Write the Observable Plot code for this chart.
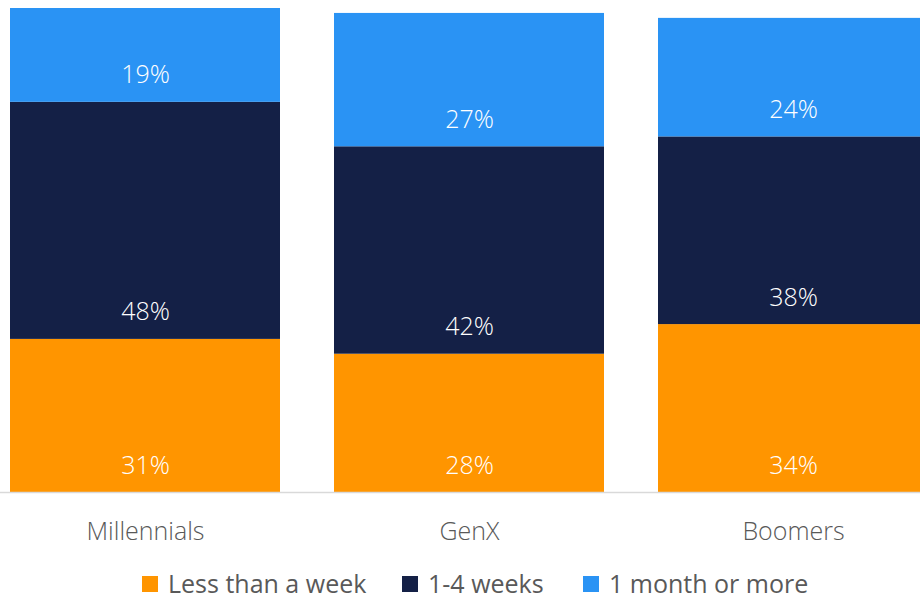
<!DOCTYPE html>
<html>
<head>
<meta charset="utf-8">
<script src="https://cdn.jsdelivr.net/npm/d3@7"></script>
<script src="https://cdn.jsdelivr.net/npm/@observablehq/plot@0.6"></script>
<style>
  html, body { margin: 0; padding: 0; background: #fff; }
  body { width: 920px; height: 602px; overflow: hidden; font-family: "Open Sans", "Noto Sans", sans-serif; position: relative; }
  #chart svg { display: block; }
  #legend { position: absolute; left: 0; top: 571px; width: 920px; height: 25px; font-size: 25px; line-height: 25px; color: #595959; }
  .item { position: absolute; top: 0; height: 25px; display: flex; align-items: center; gap: 10px; white-space: nowrap; }
  .sw { width: 16px; height: 16px; display: inline-block; }
</style>
</head>
<body>
<div id="chart"></div>
<div id="legend"></div>
<script>
const categories = ["Millennials", "GenX", "Boomers"];
const series = ["Less than a week", "1-4 weeks", "1 month or more"];
const lessThanWeek = [31, 28, 34];
const oneToFourWeeks = [48, 42, 38];
const monthOrMore = [19, 27, 24];
const colors = ["#FF9500", "#142046", "#2A93F4"];

const values = [lessThanWeek, oneToFourWeeks, monthOrMore];
const data = [];
series.forEach((s, si) => categories.forEach((c, ci) => data.push({category: c, series: s, value: values[si][ci]})));

const chart = Plot.plot({
  width: 920,
  height: 566,
  marginTop: 8,
  marginBottom: 74,
  marginLeft: 0,
  marginRight: 0,
  style: {fontFamily: "'Open Sans', 'Noto Sans', sans-serif", background: "transparent"},
  x: {domain: categories, range: [-17, 955], paddingInner: 54 / 324, paddingOuter: 27 / 324, label: null},
  y: {domain: [0, 98], axis: null},
  color: {domain: series, range: colors},
  marks: [
    Plot.barY(data, {x: "category", y: "value", fill: "series", order: series}),
    Plot.ruleY([0], {stroke: "#d9d9d9", strokeWidth: 1.5}),
    Plot.text(data, Plot.stackY1({x: "category", y: "value", z: "series", order: series, text: d => d.value + "%", fill: "white", fontSize: 25, fontWeight: 300, dy: -27})),
    Plot.axisX({tickSize: 0, tickPadding: 30, fontSize: 25, fontWeight: 300, color: "#595959", label: null})
  ]
});
document.getElementById("chart").appendChild(chart);

const legendLeft = [142, 402, 583];
const legend = document.getElementById("legend");
series.forEach((s, i) => {
  const item = document.createElement("div");
  item.className = "item";
  item.style.left = legendLeft[i] + "px";
  const sw = document.createElement("span");
  sw.className = "sw";
  sw.style.background = colors[i];
  const t = document.createElement("span");
  t.textContent = s;
  item.appendChild(sw);
  item.appendChild(t);
  legend.appendChild(item);
});
</script>
</body>
</html>
